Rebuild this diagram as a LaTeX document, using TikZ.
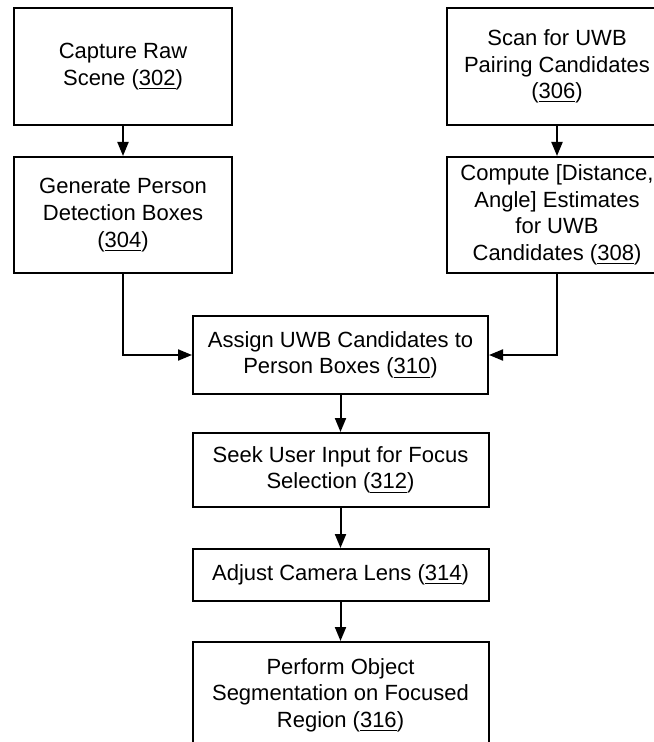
\documentclass[tikz,border=0pt]{standalone}
\usepackage{fontspec}
\setmainfont{Liberation Sans}
\usetikzlibrary{positioning,arrows.meta}
\tikzset{
  stepbox/.style={draw=black,line width=1pt,align=center,inner sep=2pt,
    font=\fontsize{11pt}{13.3pt}\selectfont},
  flow/.style={-{Triangle[length=7pt,width=5.5pt]},line width=1pt},
}
\begin{document}
\begin{tikzpicture}[x=0.5pt,y=-0.5pt]
  \useasboundingbox (0,0) rectangle (653,742);
  % left column
  \node[stepbox,minimum width=109pt,minimum height=58.5pt] (capture) at (123,66.5)
    {Capture Raw\\Scene (\underline{302})};
  \node[stepbox,minimum width=109pt,minimum height=58pt] (detect) at (123,215)
    {Generate Person\\Detection Boxes\\(\underline{304})};
  % right column
  \node[stepbox,minimum width=110pt,minimum height=58.5pt] (scan) at (557,66.5)
    {Scan for UWB\\Pairing Candidates\\(\underline{306})};
  \node[stepbox,minimum width=110pt,minimum height=58pt] (compute) at (557,215)
    {Compute [Distance,\\Angle] Estimates\\for UWB\\Candidates (\underline{308})};
  % middle column
  \node[stepbox,minimum width=147.5pt,minimum height=38.5pt] (assign) at (340.5,355)
    {Assign UWB Candidates to\\Person Boxes (\underline{310})};
  \node[stepbox,minimum width=148pt,minimum height=37pt] (seek) at (340.5,470)
    {Seek User Input for Focus\\Selection (\underline{312})};
  \node[stepbox,minimum width=148pt,minimum height=26pt] (adjust) at (340.5,575)
    {Adjust Camera Lens (\underline{314})};
  \node[stepbox,minimum width=148pt,minimum height=53pt] (segment) at (340.5,695)
    {Perform Object\\Segmentation on Focused\\Region (\underline{316})};
  % connectors
  \draw[flow] (capture) -- (detect);
  \draw[flow] (scan) -- (compute);
  \draw[flow] (detect.south) |- (assign.west);
  \draw[flow] (compute.south) |- (assign.east);
  \draw[flow] (assign) -- (seek);
  \draw[flow] (seek) -- (adjust);
  \draw[flow] (adjust) -- (segment);
\end{tikzpicture}
\end{document}
